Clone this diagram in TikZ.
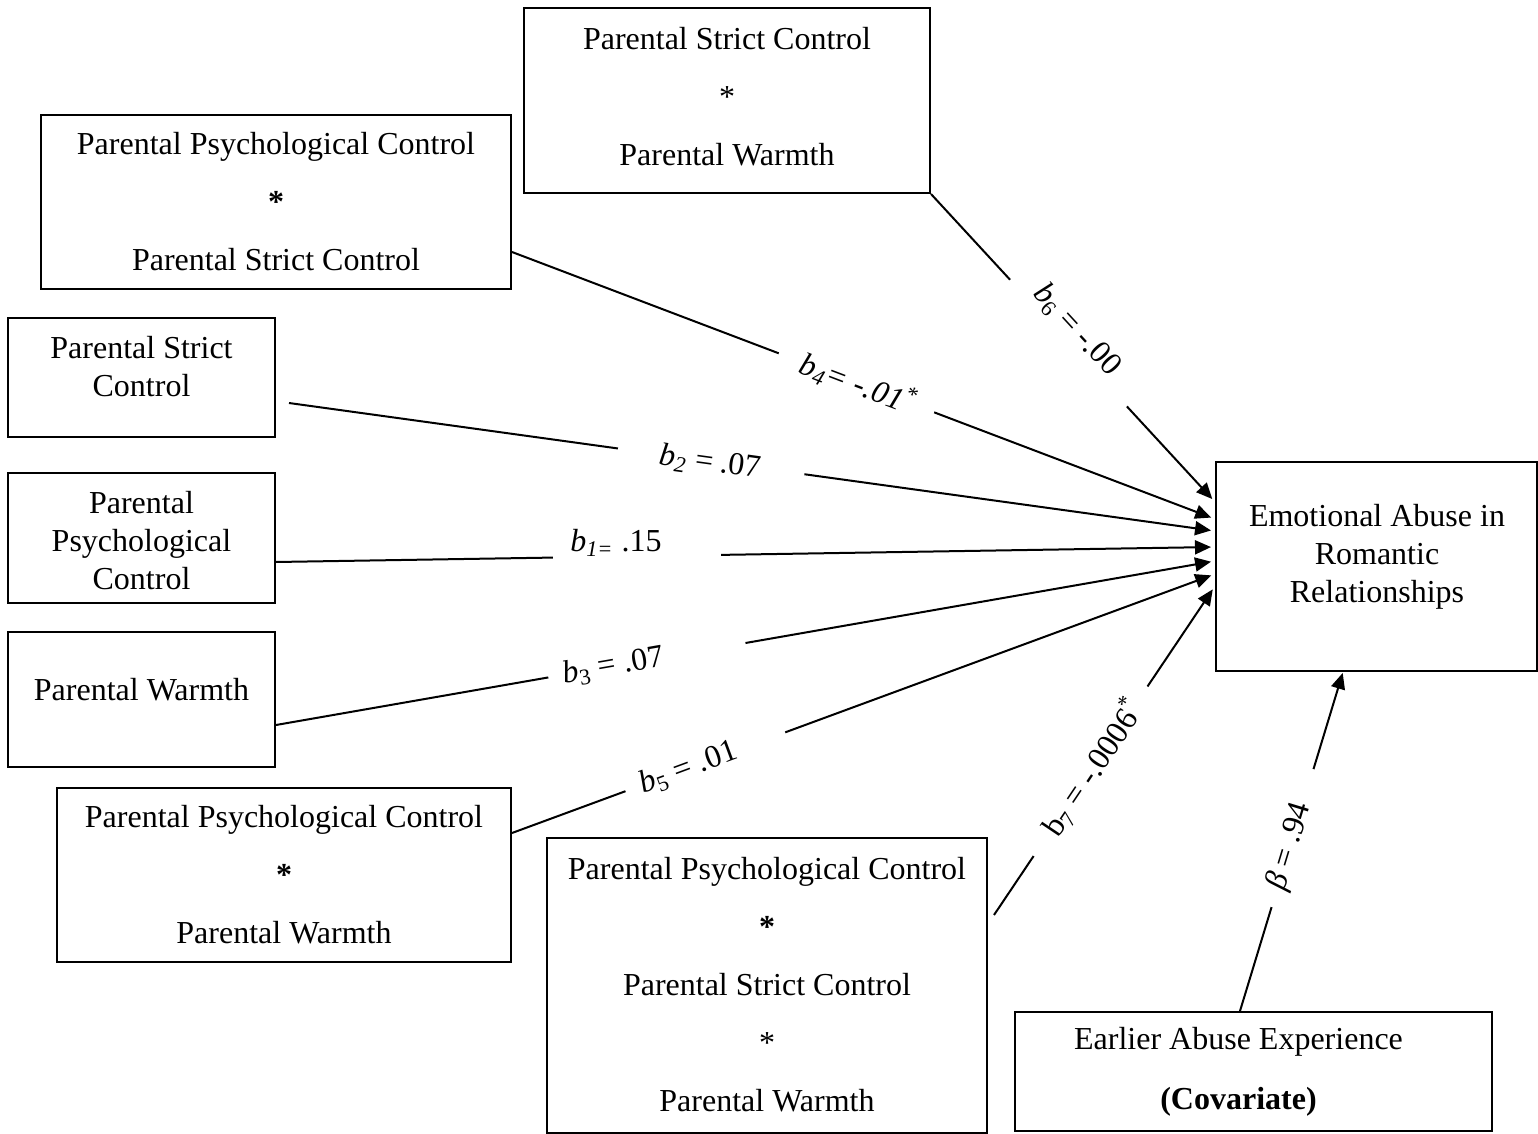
\documentclass[tikz,border=0pt]{standalone}
\usepackage{fontspec}
\setmainfont{Liberation Serif}
\usetikzlibrary{arrows.meta,calc}
\begin{document}
\begin{tikzpicture}[x=0.5pt,y=-0.5pt,
  box/.style={draw,line width=1pt,inner sep=0pt},
  txt/.style={align=center,font=\fontsize{16}{29}\selectfont,inner sep=0pt},
  txtn/.style={align=center,font=\fontsize{16}{19}\selectfont,inner sep=0pt},
  conn/.style={line width=1pt,-{Triangle[length=8pt,width=7pt]},shorten >=2pt},
  gap/.style={fill=white,inner sep=0pt,minimum height=22pt,sloped},
  lab/.style={font=\fontsize{16}{19}\selectfont,inner sep=0pt,sloped}]
\useasboundingbox (0,0) rectangle (1538,1134);

% boxes
\node[box,minimum width=203pt,minimum height=92.5pt] (pscpw) at (727,100.5) {};
\node[txt] (pscpwT) at (727,97) {Parental Strict Control\\*\\Parental Warmth};

\node[box,minimum width=235pt,minimum height=87pt] (ppcpsc) at (276,202) {};
\node[txt] (ppcpscT) at (276,202) {Parental Psychological Control\\\textbf{*}\\Parental Strict Control};

\node[box,minimum width=133.5pt,minimum height=59.5pt] (psc) at (141.5,377.5) {};
\node[txtn] (pscT) at (141.5,366.5) {Parental Strict\\Control};

\node[box,minimum width=133.5pt,minimum height=65pt] (ppc) at (141.5,538) {};
\node[txtn] (ppcT) at (141.5,541) {Parental\\Psychological\\Control};

\node[box,minimum width=133.5pt,minimum height=67.5pt] (pw) at (141.5,699.5) {};
\node[txtn] (pwT) at (141.5,690) {Parental Warmth};

\node[box,minimum width=227pt,minimum height=87pt] (ppcpw) at (284,875) {};
\node[txt] (ppcpwT) at (284,875) {Parental Psychological Control\\\textbf{*}\\Parental Warmth};

\node[box,minimum width=220pt,minimum height=147.5pt] (three) at (767,985.5) {};
\node[txt] (threeT) at (767,985) {Parental Psychological Control\\\textbf{*}\\Parental Strict Control\\*\\Parental Warmth};

\node[box,minimum width=160.5pt,minimum height=104.5pt] (out) at (1376.5,566.5) {};
\node[txtn] (outT) at (1377,557) {Emotional Abuse in\\Romantic\\Relationships};

\node[box,minimum width=238.5pt,minimum height=59.5pt] (cov) at (1253.5,1071.5) {};
\node[align=center,font=\fontsize{16}{30}\selectfont,inner sep=0pt] (covT) at (1238.5,1072) {Earlier Abuse Experience\\\textbf{(Covariate)}};

% connectors
\draw[conn] (pscpw.south east) -- ($(out.north west)+(0,41)$)
  node[gap,pos=0.484,minimum width=86pt] (g6) {}
  node[lab,pos=0.475,anchor=south] (l6) {\textit{b}\textsubscript{6} = -.00};

\draw[conn] ($(ppcpsc.east)+(0,50)$) -- ($(out.north west)+(0,58)$)
  node[gap,pos=0.49,minimum width=83pt] (g4) {}
  node[lab,pos=0.492] (l4) {\textit{b\textsubscript{4}= -.01\textsuperscript{*}}};

\draw[conn] ($(psc.east)+(13,25.5)$) -- ($(out.north west)+(0,70)$)
  node[gap,pos=0.456,minimum width=94pt] (g2) {}
  node[lab,pos=0.455,anchor=base,yshift=-5pt] (l2) {\textit{b\textsubscript{2}} = .07};

\draw[conn] ($(ppc.east)+(0,24)$) -- ($(out.north west)+(0,86)$)
  node[gap,pos=0.384,minimum width=84pt,sloped=false] (g1) {}
  node[font=\fontsize{16}{19}\selectfont,inner sep=0pt,pos=0.362,yshift=7pt] (l1) {\textit{b\textsubscript{1=}} .15};

\draw[conn] ($(pw.east)+(0,25.5)$) -- ($(out.north west)+(0,100)$)
  node[gap,pos=0.395,minimum width=100pt] (g3) {}
  node[lab,pos=0.359] (l3) {\textit{b}\textsubscript{3} = .07};

\draw[conn] ($(ppcpw.east)+(0,-42)$) -- ($(out.north west)+(0,113)$)
  node[gap,pos=0.275,minimum width=85pt] (g5) {}
  node[lab,pos=0.251] (l5) {\textit{b}\textsubscript{5} = .01};

\draw[conn] ($(three.east)+(6,-70.5)$) -- ($(out.north west)+(0,125)$)
  node[gap,pos=0.437,minimum width=102pt] (g7) {}
  node[lab,pos=0.448] (l7) {b\textsubscript{7} = -.0006\textsuperscript{*}};

\draw[conn,shorten >=0.5pt] ($(cov.north)+(-13.5,0)$) -- ($(out.south)+(-33.5,0)$)
  node[gap,pos=0.51,minimum width=72pt] (gb) {}
  node[lab,pos=0.485] (lb) {\textit{β} = .94};
\end{tikzpicture}
\end{document}
